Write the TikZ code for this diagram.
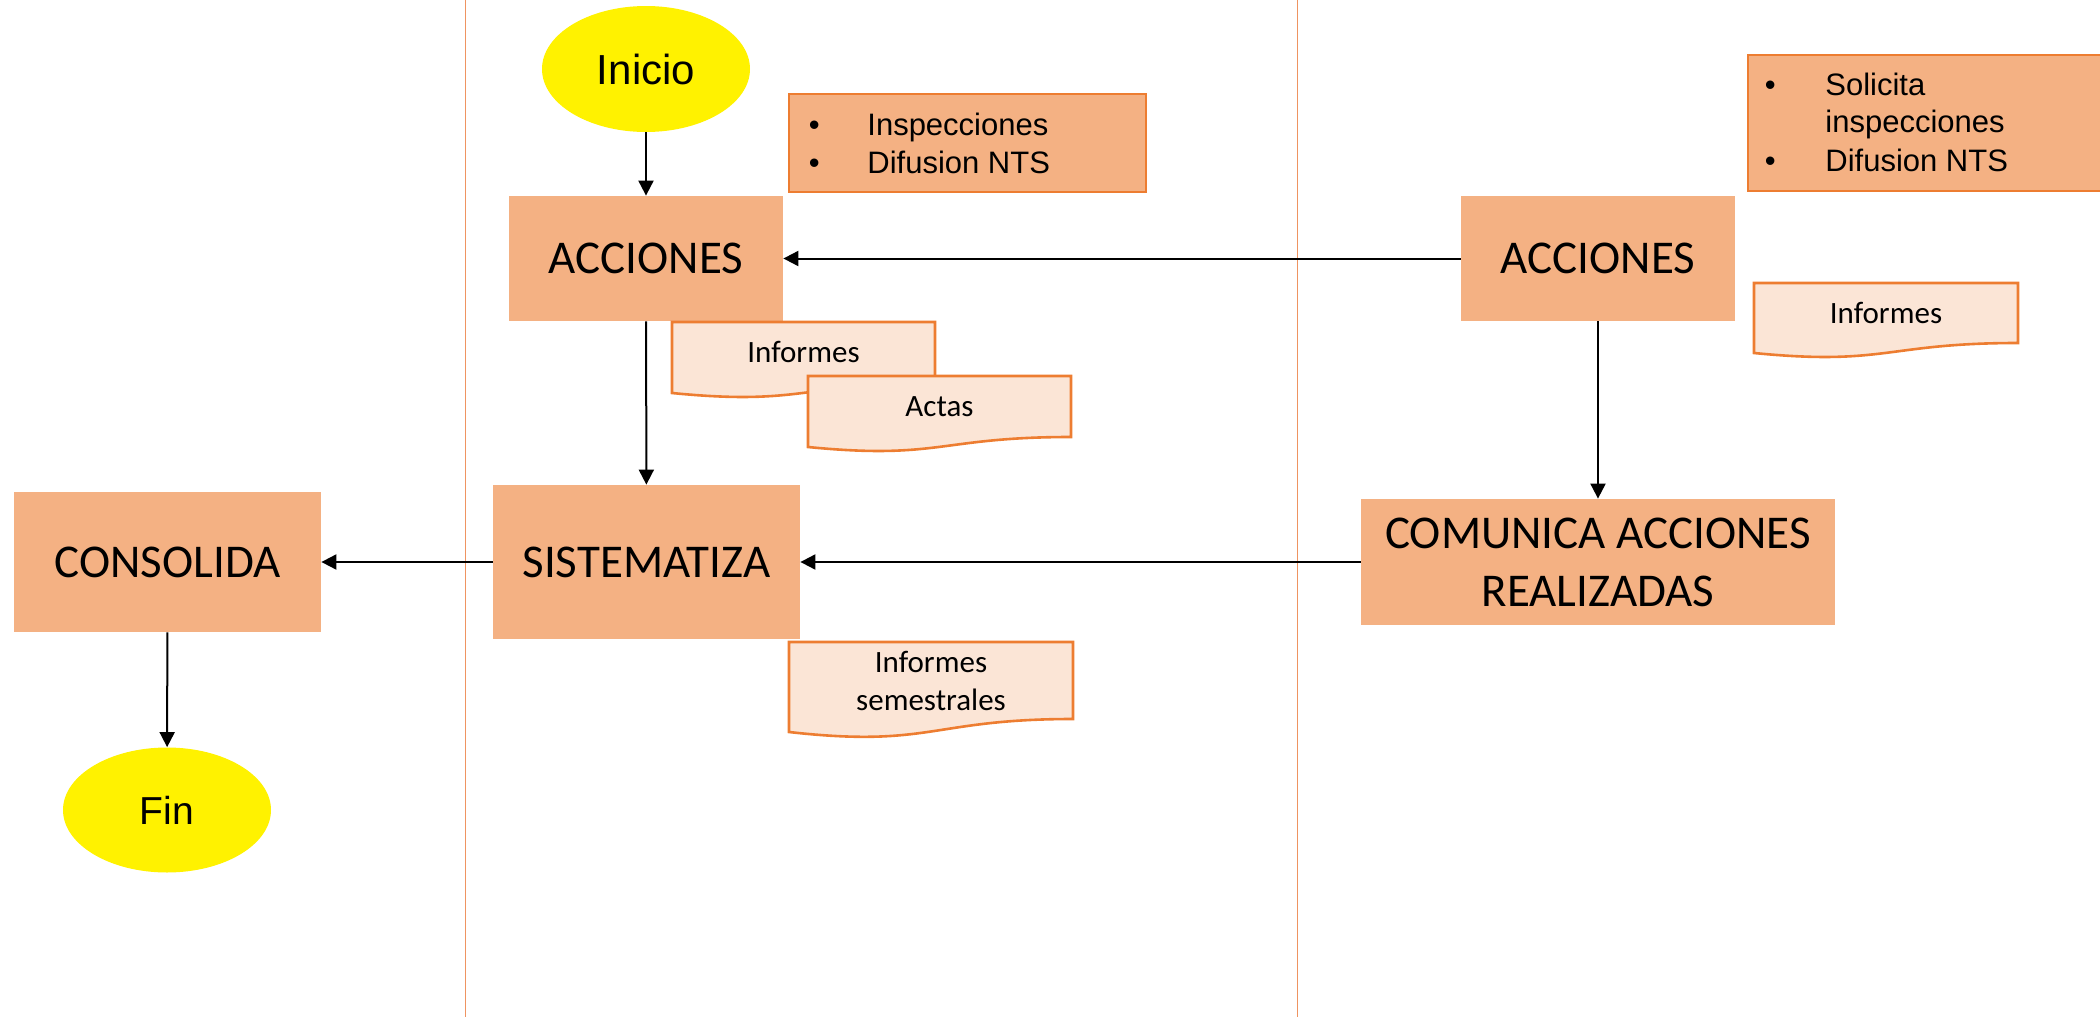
\documentclass[tikz,border=0pt]{standalone}
\usepackage{fontspec}
\setmainfont{Carlito}
\newfontfamily\arialf{Liberation Sans}
\usetikzlibrary{shapes.geometric,arrows.meta}
\definecolor{boxfill}{HTML}{F4B183}
\definecolor{docfill}{HTML}{FBE5D6}
\definecolor{orng}{HTML}{ED7D31}
\definecolor{lane}{HTML}{EF9461}
\tikzset{
 procbox/.style={rectangle, fill=boxfill, inner sep=0pt, align=center, font=\fontsize{23.5}{29}\selectfont},
 term/.style={ellipse, fill=yellow, inner sep=0pt},
 flow/.style={draw=black, line width=1pt, -{Triangle[length=7.5pt,width=7.5pt]}},
 notebox/.style={rectangle, fill=boxfill, draw=orng, line width=1pt, inner sep=0pt},
 notetxt/.style={anchor=base west, inner sep=0pt, font=\arialf\fontsize{15.5}{18}\selectfont},
 docshape/.style={fill=docfill, draw=orng, line width=1.3pt},
 doctxt/.style={align=center, inner sep=0pt, font=\fontsize{15.5}{19}\selectfont},
 laneline/.style={draw=lane, line width=0.8pt},
}
\begin{document}
\begin{tikzpicture}[x=0.5pt,y=-0.5pt]
\useasboundingbox (0,0) rectangle (2100,1017);
\clip (0,0) rectangle (2100,1017);
% swimlane lines
\coordinate (l1t) at (465.5,0); \coordinate (l1b) at (465.5,1017);
\coordinate (l2t) at (1297.5,0); \coordinate (l2b) at (1297.5,1017);
\draw[laneline] (l1t) -- (l1b);
\draw[laneline] (l2t) -- (l2b);

% terminals
\node[term, minimum width=104pt, minimum height=63pt, font=\arialf\fontsize{21}{25}\selectfont] (inicio) at (646,69) {Inicio};
\node[term, minimum width=104pt, minimum height=62.5pt, font=\arialf\fontsize{19.5}{23}\selectfont] (fin) at (167,810) {Fin};

% process boxes
\node[procbox, minimum width=137pt, minimum height=62.5pt] (accL) at (646,258.5) {ACCIONES};
\node[procbox, minimum width=137pt, minimum height=62.5pt] (accR) at (1598,258.5) {ACCIONES};
\node[procbox, minimum width=153.5pt, minimum height=77pt] (sis) at (646.5,562) {SISTEMATIZA};
\node[procbox, minimum width=153.5pt, minimum height=70pt] (con) at (167.5,562) {CONSOLIDA};
\node[procbox, minimum width=237pt, minimum height=63pt] (com) at (1598,562) {COMUNICA ACCIONES\\REALIZADAS};

% note boxes
\node[notebox, minimum width=178.5pt, minimum height=49pt] (b1) at (967.5,143) {};
\node[notetxt] (b1a) at (808.5,135) {•};
\node[notetxt] (b1b) at (867,135) {Inspecciones};
\node[notetxt] (b1c) at (808.5,173) {•};
\node[notetxt] (b1d) at (867,173) {Difusion NTS};

\node[notebox, minimum width=184pt, minimum height=68pt] (b2) at (1932,123) {};
\node[notetxt] (b2a) at (1764.5,95) {•};
\node[notetxt] (b2b) at (1825,95) {Solicita};
\node[notetxt] (b2c) at (1825,132) {inspecciones};
\node[notetxt] (b2d) at (1764.5,171) {•};
\node[notetxt] (b2e) at (1825,171) {Difusion NTS};

% documents
\draw[docshape] (672,322) -- (935,322) -- (935,383) .. controls (803.5,383) and (803.5,406) .. (672,393) -- cycle;
\node[doctxt] (d1) at (803.5,352) {Informes};
\draw[docshape] (808,376) -- (1071,376) -- (1071,437) .. controls (939.5,437) and (939.5,460) .. (808,447) -- cycle;
\node[doctxt] (d2) at (939.5,407) {Actas};
\draw[docshape] (1754,283) -- (2018,283) -- (2018,343) .. controls (1886,343) and (1886,366) .. (1754,353) -- cycle;
\node[doctxt] (d3) at (1886,313) {Informes};
\draw[docshape] (789,642) -- (1073,642) -- (1073,719) .. controls (931,719) and (931,748) .. (789,732) -- cycle;
\node[doctxt] (d4) at (931,681) {Informes\\semestrales};

% connectors
\draw[flow] (inicio) -- (accL);
\draw[flow] (accR) -- (accL);
\draw[flow] (accL) -- (sis);
\draw[flow] (accR) -- (com);
\draw[flow] (com) -- (sis);
\draw[flow] (sis) -- (con);
\draw[flow] (con) -- (fin);
\end{tikzpicture}
\end{document}
